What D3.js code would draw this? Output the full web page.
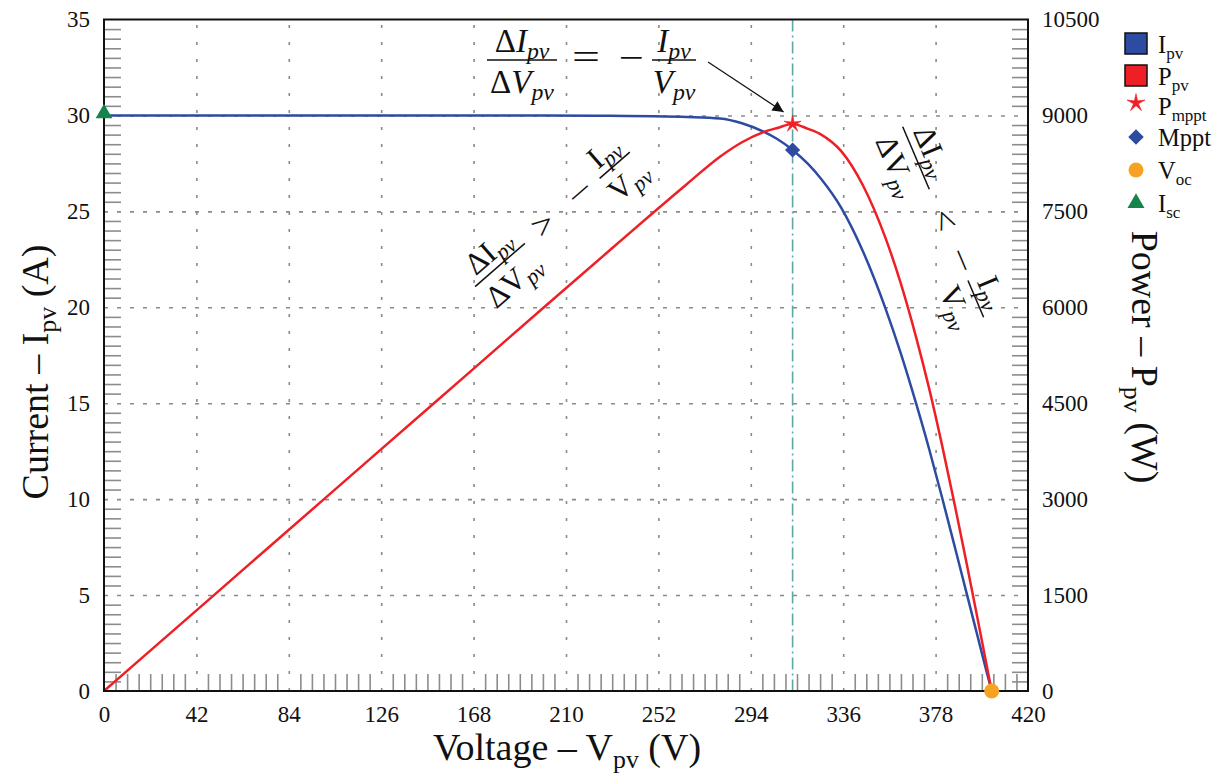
<!DOCTYPE html>
<html>
<head>
<meta charset="utf-8">
<script src="https://cdn.jsdelivr.net/npm/d3@7"></script>
<style>
  body { margin: 0; background: #fff; }
  svg { display: block; }
  text { font-family: "Liberation Serif", "Times New Roman", serif; fill: #111; }
</style>
</head>
<body>
<svg id="chart" width="1223" height="776"></svg>
<script>
// PV array characteristic: I-V and P-V curves
const voltage = [0, 50, 100, 150, 200, 230, 250, 265, 280, 290, 300, 306, 313, 320, 326, 335, 345, 355, 362, 369, 375, 381, 387, 392, 397, 401, 403.5];
const current = [30.0, 30.0, 30.0, 30.0, 30.0, 29.98, 29.96, 29.92, 29.84, 29.59, 29.14, 28.77, 28.2, 27.47, 26.69, 25.21, 22.91, 20.01, 17.66, 15.04, 12.64, 10.06, 7.39, 5.14, 2.89, 1.09, 0];
const power = [0, 1500, 3000, 4500, 6000, 6895, 7490, 7929, 8355, 8581, 8742, 8804, 8866, 8790, 8701, 8445, 7904, 7104, 6393, 5550, 4740, 3833, 2860, 2015, 1147, 437, 0];

// special operating points: [voltage, current, power]
const mpptPoint = [313, 28.2, 8866];
const vocPoint = [403.5, 0];
const iscPoint = [0, 30];

const xTicks = [0, 42, 84, 126, 168, 210, 252, 294, 336, 378, 420];
const yTicks = [0, 5, 10, 15, 20, 25, 30, 35];
const pTicks = [0, 1500, 3000, 4500, 6000, 7500, 9000, 10500];

const legendNames = ["I", "P", "P", "Mppt", "V", "I"];
const legendSubs = ["pv", "pv", "mppt", "", "oc", "sc"];

const BLUE = "#2d4ba0", RED = "#ee2026", ORANGE = "#f6a323", GREEN = "#16844a", TEAL = "#5aa9a4", GRID = "#8a8a8a";

const svg = d3.select("#chart");
const L = 104, R = 1028, T = 19.5, B = 691;

const x = d3.scaleLinear().domain([0, 420]).range([L, R]);
const y = d3.scaleLinear().domain([0, 35]).range([B, T]);
const yP = d3.scaleLinear().domain([0, 10500]).range([B, T]);

// ---- grid lines (dotted) ----
const gridV = svg.append("g").attr("transform", `translate(0,${B})`)
  .call(d3.axisBottom(x).tickValues(xTicks.slice(1, -1)).tickSize(-(B - T)).tickFormat(""));
gridV.select(".domain").remove();
gridV.selectAll("line").attr("stroke", GRID).attr("stroke-width", 1.6).attr("stroke-dasharray", "3,14");

const gridH = svg.append("g").attr("transform", `translate(${L},0)`)
  .call(d3.axisLeft(y).tickValues(yTicks.slice(1, -1)).tickSize(-(R - L)).tickFormat(""));
gridH.select(".domain").remove();
gridH.selectAll("line").attr("stroke", GRID).attr("stroke-width", 1.6).attr("stroke-dasharray", "4,9");

// ---- minor ticks pointing inward ----
const minorX = d3.range(0, 80).filter(i => i % 8 !== 0).map(i => i * 5.25);
const minorY = d3.range(0, 70).filter(i => i % 10 !== 0).map(i => i * 0.5);
const minorP = d3.range(0, 70).filter(i => i % 10 !== 0).map(i => i * 150);

function styleMinor(g) {
  g.select(".domain").remove();
  g.selectAll("line").attr("stroke", "#8c8c8c").attr("stroke-width", 1.6);
}
svg.append("g").attr("transform", `translate(0,${B})`)
  .call(d3.axisBottom(x).tickValues(minorX).tickSize(-17).tickFormat("")).call(styleMinor);
svg.append("g").attr("transform", `translate(${L},0)`)
  .call(d3.axisLeft(y).tickValues(minorY).tickSize(-17).tickFormat("")).call(styleMinor);
svg.append("g").attr("transform", `translate(${R},0)`)
  .call(d3.axisRight(yP).tickValues(minorP).tickSize(-16).tickFormat("")).call(styleMinor);

// ---- MPP vertical marker line ----
svg.append("line")
  .attr("x1", x(mpptPoint[0])).attr("x2", x(mpptPoint[0]))
  .attr("y1", T).attr("y2", B)
  .attr("stroke", TEAL).attr("stroke-width", 1.6)
  .attr("stroke-dasharray", "12,4,2,4");

// ---- curves ----
const ivLine = d3.line().x((d, i) => x(voltage[i])).y(d => y(d)).curve(d3.curveMonotoneX);
const pvLine = d3.line().x((d, i) => x(voltage[i])).y(d => yP(d)).curve(d3.curveMonotoneX);

svg.append("path").datum(current).attr("d", ivLine)
  .attr("fill", "none").attr("stroke", BLUE).attr("stroke-width", 2.5);
svg.append("path").datum(power).attr("d", pvLine)
  .attr("fill", "none").attr("stroke", RED).attr("stroke-width", 2.5);

// ---- frame ----
svg.append("rect").attr("x", L).attr("y", T).attr("width", R - L).attr("height", B - T)
  .attr("fill", "none").attr("stroke", "#111").attr("stroke-width", 2);

// ---- main axes labels ----
const tickFont = 23;
function styleLabels(g) {
  g.select(".domain").remove();
  g.selectAll("text").attr("font-size", tickFont).attr("fill", "#111")
    .attr("font-family", '"Liberation Serif", serif');
}
svg.append("g").attr("transform", `translate(${L},0)`)
  .call(d3.axisLeft(y).tickValues(yTicks).tickSize(0).tickPadding(14)).call(styleLabels);
svg.append("g").attr("transform", `translate(0,${B})`)
  .call(d3.axisBottom(x).tickValues(xTicks).tickSize(0).tickPadding(15)).call(styleLabels);
svg.append("g").attr("transform", `translate(${R},0)`)
  .call(d3.axisRight(yP).tickValues(pTicks).tickSize(0).tickPadding(14).tickFormat(d3.format("d")))
  .call(styleLabels);

// ---- axis titles ----
function titleText(sel, main, sub, tail, size) {
  sel.attr("font-size", size).attr("text-anchor", "middle");
  sel.append("tspan").text(main);
  sel.append("tspan").attr("font-size", size * 0.68).attr("dy", size * 0.2).text(sub);
  sel.append("tspan").attr("dy", -size * 0.2).text(tail);
}
const titleSize = 38;
svg.append("text").attr("transform", `translate(567,760)`)
  .call(titleText, "Voltage \u2013 V", "pv", " (V)", titleSize);
svg.append("text").attr("transform", `translate(48,372) rotate(-90)`)
  .call(titleText, "Current \u2013 I", "pv", " (A)", titleSize);
svg.append("text").attr("transform", `translate(1132,357) rotate(90)`)
  .call(titleText, "Power \u2013 P", "pv", " (W)", titleSize);

// ---- markers ----
const starType = {
  draw(ctx, size) {
    const r = Math.sqrt(size) * 0.9, ri = r * 0.28;
    for (let k = 0; k < 10; k++) {
      const a = -Math.PI / 2 + k * Math.PI / 5;
      const rr = k % 2 ? ri : r;
      if (k === 0) ctx.moveTo(rr * Math.cos(a), rr * Math.sin(a));
      else ctx.lineTo(rr * Math.cos(a), rr * Math.sin(a));
    }
    ctx.closePath();
  }
};
const diamond = d3.symbol(d3.symbolSquare, 115)();
const triangle = d3.symbol(d3.symbolTriangle, 120)();
const star = d3.symbol(starType, 100)();

svg.append("path").attr("d", triangle)
  .attr("transform", `translate(${x(iscPoint[0])},${y(iscPoint[1]) - 2})`)
  .attr("fill", GREEN);
svg.append("path").attr("d", diamond)
  .attr("transform", `translate(${x(mpptPoint[0])},${y(mpptPoint[1])}) rotate(45)`)
  .attr("fill", BLUE);
svg.append("path").attr("d", star)
  .attr("transform", `translate(${x(mpptPoint[0])},${yP(mpptPoint[2])})`)
  .attr("fill", RED).attr("stroke", RED).attr("stroke-width", 0.6);
svg.append("circle").attr("cx", x(vocPoint[0])).attr("cy", y(vocPoint[1])).attr("r", 7.5)
  .attr("fill", ORANGE);

// ---- annotations ----
const defs = svg.append("defs");
defs.append("marker").attr("id", "arrowHead")
  .attr("viewBox", "0 0 10 10").attr("refX", 10).attr("refY", 5)
  .attr("markerWidth", 17).attr("markerHeight", 11).attr("markerUnits", "userSpaceOnUse")
  .attr("orient", "auto")
  .append("path").attr("d", "M0,0 L10,5 L0,10 Z").attr("fill", "#111");

// text piece: [string, italic, subscript]
function mathRun(g, cx, baseline, pieces, size) {
  const t = g.append("text").attr("x", cx).attr("y", baseline)
    .attr("text-anchor", "middle").attr("font-size", size);
  let shifted = false;
  pieces.forEach(([s, it, sub]) => {
    const sp = t.append("tspan").text(s).attr("font-style", it ? "italic" : "normal");
    if (sub && !shifted) { sp.attr("font-size", size * 0.72).attr("dy", size * 0.2); shifted = true; }
    else if (!sub && shifted) { sp.attr("dy", -size * 0.2); shifted = false; }
    else if (sub) sp.attr("font-size", size * 0.72);
  });
  return t;
}
function fraction(g, cx, num, den, size, barW) {
  mathRun(g, cx, -size * 0.24, num, size);
  mathRun(g, cx, size * 1.0, den, size);
  g.append("line").attr("x1", cx - barW / 2).attr("x2", cx + barW / 2)
    .attr("y1", 0).attr("y2", 0).attr("stroke", "#111").attr("stroke-width", 1.5);
}
function symbolAt(g, cx, s, size, w) {
  g.append("text").attr("x", cx).attr("y", size * 0.26).attr("text-anchor", "middle")
    .attr("font-size", size).attr("textLength", w).attr("lengthAdjust", "spacingAndGlyphs").text(s);
}

// top: dI/dV = -I/V at the maximum power point
const eqTop = svg.append("g").attr("transform", "translate(0,60)");
fraction(eqTop, 522, [["\u0394", false], ["I", true], ["pv", true, true]],
  [["\u0394", false], ["V", true], ["pv", true, true]], 33, 70);
symbolAt(eqTop, 586, "=", 36, 28);
symbolAt(eqTop, 631, "\u2212", 34, 25);
fraction(eqTop, 674, [["I", true], ["pv", true, true]], [["V", true], ["pv", true, true]], 33, 44);

// arrow pointing to the MPP
const tipX = x(mpptPoint[0]) - 9, tipY = yP(mpptPoint[2]) - 12;
svg.append("line").attr("x1", 708).attr("y1", 62).attr("x2", tipX).attr("y2", tipY)
  .attr("stroke", "#111").attr("stroke-width", 1.2).attr("marker-end", "url(#arrowHead)");

// left of MPP: dI/dV > -I/V
const eqLeft = svg.append("g").attr("transform", "translate(500,265) rotate(-41)");
fraction(eqLeft, 0, [["\u0394", false], ["I", false], ["pv", true, true]],
  [["\u0394", false], ["V", false], ["pv", true, true]], 31, 66);
symbolAt(eqLeft, 59, ">", 34, 21);
symbolAt(eqLeft, 108, "\u2212", 31, 25);
fraction(eqLeft, 152, [["I", false], ["pv", true, true]], [["V", false], ["pv", true, true]], 31, 40);

// right of MPP: dI/dV < -I/V
const eqRight = svg.append("g").attr("transform", "translate(916,158) rotate(67)");
fraction(eqRight, 0, [["\u0394", false], ["I", false], ["pv", true, true]],
  [["\u0394", false], ["V", false], ["pv", true, true]], 31, 68);
symbolAt(eqRight, 68, "<", 34, 21);
symbolAt(eqRight, 112, "\u2212", 31, 25);
fraction(eqRight, 153, [["I", false], ["pv", true, true]], [["V", false], ["pv", true, true]], 31, 40);

// ---- legend ----
const legendBase = [53, 85, 115, 146, 179, 212];
const lg = svg.append("g");
legendNames.forEach((name, i) => {
  const by = legendBase[i];
  const cx = 1136, cy = by - 9;
  if (i === 0 || i === 1) {
    lg.append("rect").attr("x", 1125).attr("y", by - 20).attr("width", 22).attr("height", 21)
      .attr("fill", i === 0 ? BLUE : RED).attr("stroke", "#111").attr("stroke-width", 1.5);
  } else if (i === 2) {
    lg.append("path").attr("d", d3.symbol(starType, 110)())
      .attr("transform", `translate(${cx},${by - 12})`).attr("fill", RED).attr("stroke", RED).attr("stroke-width", 0.6);
  } else if (i === 3) {
    lg.append("path").attr("d", d3.symbol(d3.symbolSquare, 120)())
      .attr("transform", `translate(${cx},${cy}) rotate(45)`).attr("fill", BLUE);
  } else if (i === 4) {
    lg.append("circle").attr("cx", cx).attr("cy", cy).attr("r", 7.5).attr("fill", ORANGE);
  } else {
    lg.append("path").attr("d", d3.symbol(d3.symbolTriangle, 125)())
      .attr("transform", `translate(${cx},${cy})`).attr("fill", GREEN);
  }
  const t = lg.append("text").attr("x", 1158).attr("y", by).attr("font-size", 24.5);
  t.append("tspan").text(name);
  if (legendSubs[i]) t.append("tspan").attr("font-size", 17).attr("dy", 6).text(legendSubs[i]);
});
</script>
</body>
</html>
